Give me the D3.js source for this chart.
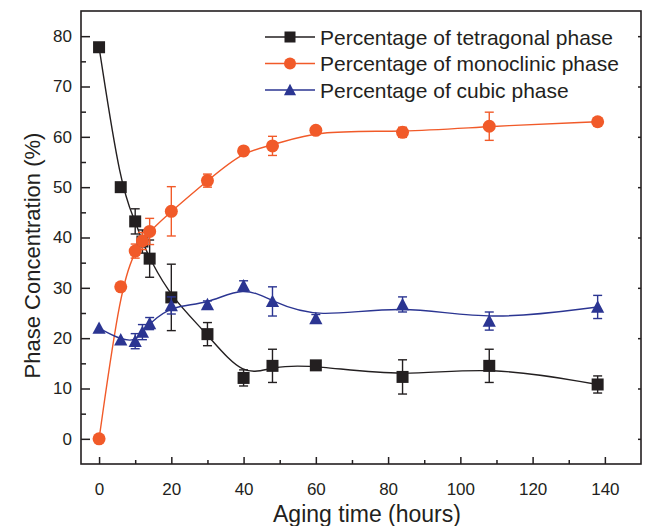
<!DOCTYPE html>
<html>
<head>
<meta charset="utf-8">
<script src="https://cdn.jsdelivr.net/npm/d3@7"></script>
<style>
html,body{margin:0;padding:0;background:#fff;}
svg text{font-family:"Liberation Sans",Arial,Helvetica,sans-serif;fill:#231f20;}
</style>
</head>
<body>
<svg id="chart" width="648" height="526"></svg>
<script>
// ---- data ----
const agingTime   = [0, 6, 10, 12, 14, 20, 30, 40, 48, 60, 84, 108, 138];
const tetragonal  = [77.8, 50.0, 43.2, 39.2, 35.8, 28.1, 20.8, 12.1, 14.5, 14.6, 12.3, 14.5, 10.8];
const tetraErr    = [0, 0, 2.5, 2.3, 3.7, 6.6, 2.3, 1.6, 3.3, 0.5, 3.4, 3.3, 1.7];
const monoclinic  = [0, 30.2, 37.3, 39.3, 41.2, 45.2, 51.3, 57.2, 58.2, 61.3, 60.9, 62.1, 63.0];
const monoErr     = [0, 0, 1.4, 1.7, 2.6, 4.9, 1.3, 0.5, 1.9, 0.5, 1.0, 2.8, 0.8];
const cubic       = [22.0, 19.7, 19.4, 21.2, 22.9, 26.5, 26.7, 30.4, 27.3, 23.9, 26.7, 23.4, 26.2];
const cubicErr    = [0, 0, 1.5, 1.5, 1.2, 1.7, 0.7, 1.0, 2.9, 0.8, 1.5, 1.8, 2.3];
const seriesNames = ["Percentage of tetragonal phase", "Percentage of monoclinic phase", "Percentage of cubic phase"];
const xTicks = [0, 20, 40, 60, 80, 100, 120, 140];
const yTicks = [0, 10, 20, 30, 40, 50, 60, 70, 80];
const xLabel = "Aging time (hours)";
const yLabel = "Phase Concentration (%)";

const colors = ["#231f20", "#f15a29", "#2b3592"];
const symbols = ["square", "circle", "triangle"];

const svg = d3.select("#chart");
const L = 81, R = 641, T = 11, B = 464;
const x = d3.scaleLinear().domain([-5, 150]).range([L, R]);
const y = d3.scaleLinear().domain([-5, 85]).range([B, T]);

const series = [
  {vals: tetragonal, err: tetraErr},
  {vals: monoclinic, err: monoErr},
  {vals: cubic, err: cubicErr}
];

// axes
const ink = "#231f20";
const gx = svg.append("g").attr("transform", `translate(0,${B})`)
  .call(d3.axisBottom(x).tickValues(xTicks).tickSize(-7).tickPadding(25).tickFormat(d3.format("d")));
const gxm = svg.append("g").attr("transform", `translate(0,${B})`)
  .call(d3.axisBottom(x).tickValues(d3.range(10, 150, 20)).tickSize(-4).tickFormat(""));
const gy = svg.append("g").attr("transform", `translate(${L},0)`)
  .call(d3.axisLeft(y).tickValues(yTicks).tickSize(-9).tickPadding(9).tickFormat(d3.format("d")));
const gym = svg.append("g").attr("transform", `translate(${L},0)`)
  .call(d3.axisLeft(y).tickValues(d3.range(5, 85, 10)).tickSize(-5).tickFormat(""));
const gr = svg.append("g").attr("transform", `translate(${R},0)`)
  .call(d3.axisRight(y).tickValues(yTicks).tickSize(-3).tickFormat(""));
[gx, gxm, gy, gym, gr].forEach(g => {
  g.select(".domain").remove();
  g.selectAll(".tick line").attr("stroke", ink).attr("stroke-width", 1.5);
  g.selectAll("text").attr("font-size", 17).style("fill", ink);
});
gx.selectAll("text").attr("dy", "0.35em");

// frame
svg.append("rect").attr("x", L).attr("y", T).attr("width", R - L).attr("height", B - T)
  .attr("fill", "none").attr("stroke", ink).attr("stroke-width", 1.6);

// axis titles
svg.append("text").attr("x", (L + R) / 2 + 6).attr("y", 522).attr("text-anchor", "middle")
  .attr("font-size", 23).text(xLabel);
svg.append("text").attr("transform", `translate(40,${(T + B) / 2 + 18}) rotate(-90)`)
  .attr("text-anchor", "middle").attr("font-size", 22).text(yLabel);

function drawSymbol(g, type, cx, cy, color, s) {
  if (type === "square") {
    g.append("rect").attr("x", cx - s / 2).attr("y", cy - s / 2).attr("width", s).attr("height", s)
      .attr("fill", color);
  } else if (type === "circle") {
    g.append("circle").attr("cx", cx).attr("cy", cy).attr("r", s / 2 + 0.5).attr("fill", color);
  } else {
    const h = s * 0.95, w = s * 1.1;
    g.append("path").attr("d", `M${cx},${cy - h / 2 - 1}L${cx + w / 2},${cy + h / 2}L${cx - w / 2},${cy + h / 2}Z`)
      .attr("fill", color);
  }
}

const line = d3.line().x(d => x(d[0])).y(d => y(d[1])).curve(d3.curveBasis);

series.forEach((s, i) => {
  const g = svg.append("g");
  const pts = agingTime.map((t, j) => [t, s.vals[j], s.err[j]]);
  g.append("path").attr("d", line(pts)).attr("fill", "none")
    .attr("stroke", colors[i]).attr("stroke-width", 1.4);
  pts.filter(p => p[2] > 0).forEach(p => {
    const cx = x(p[0]), y1 = y(p[1] + p[2]), y2 = y(p[1] - p[2]);
    g.append("line").attr("x1", cx).attr("x2", cx).attr("y1", y1).attr("y2", y2)
      .attr("stroke", colors[i]).attr("stroke-width", 1.4);
    [y1, y2].forEach(yy => g.append("line").attr("x1", cx - 4.5).attr("x2", cx + 4.5)
      .attr("y1", yy).attr("y2", yy).attr("stroke", colors[i]).attr("stroke-width", 1.4));
  });
  pts.forEach(p => drawSymbol(g, symbols[i], x(p[0]), y(p[1]), colors[i], 12));
});

// legend
const lg = svg.append("g");
seriesNames.forEach((name, i) => {
  const cy = 37 + i * 26.5;
  lg.append("line").attr("x1", 265).attr("x2", 315).attr("y1", cy).attr("y2", cy)
    .attr("stroke", colors[i]).attr("stroke-width", 1.4);
  drawSymbol(lg, symbols[i], 290, cy, colors[i], 11);
  lg.append("text").attr("x", 320).attr("y", cy).attr("dy", "0.36em")
    .attr("font-size", 21).text(name);
});
</script>
</body>
</html>
